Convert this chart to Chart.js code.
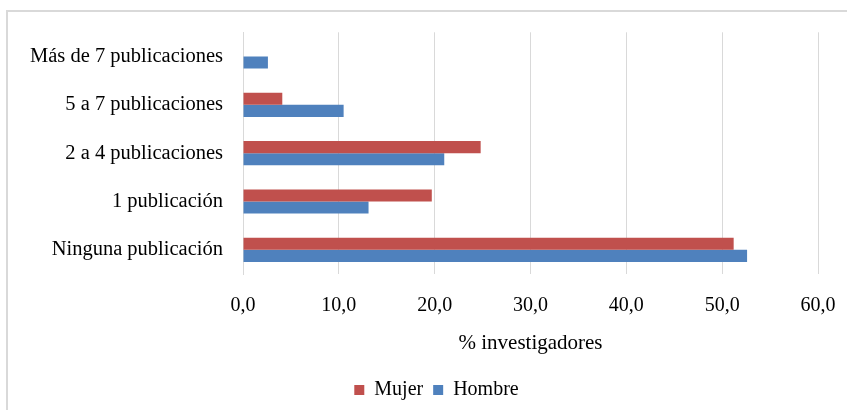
<!DOCTYPE html>
<html>
<head>
<meta charset="utf-8">
<script src="https://cdn.jsdelivr.net/npm/chart.js@4"></script>
<style>
    body { margin: 0; background: #fff; }
    #wrap { position: relative; width: 847px; height: 410px; }
    #frame {
        position: absolute; left: 6px; top: 10px; right: 0; bottom: 0;
        border-top: 2px solid #d9d9d9; border-left: 2px solid #d9d9d9;
        pointer-events: none;
    }
</style>
</head>
<body>
<div id="wrap">
    <canvas id="pub_chart" width="847" height="410"></canvas>
    <div id="frame"></div>
</div>
<script>
// categorias de arriba hacia abajo
let categorias = ["Más de 7 publicaciones", "5 a 7 publicaciones", "2 a 4 publicaciones", "1 publicación", "Ninguna publicación"]
let mujer = [0, 4.1, 24.8, 19.7, 51.2]
let hombre = [2.6, 10.5, 21.0, 13.1, 52.6]
let ejeX = { min: 0, max: 60, step: 10 }
let tituloX = "% investigadores"

let serif = "'Liberation Serif', 'Times New Roman', serif"
let fuenteTicks = { family: serif, size: 20 }
let fuenteCat = { family: serif, size: 20.5 }
let fuenteTitulo = { family: serif, size: 21 }
Chart.defaults.color = '#000'

// la leyenda del original esta corrida a la derecha
let moverLeyenda = {
    id: 'moverLeyenda',
    afterLayout: function (chart) {
        chart.legend.left = 55
    }
}

let ctx = document.getElementById("pub_chart")
let pubChart = new Chart(ctx, {
    type: 'bar',
    data: {
        labels: categorias,
        datasets: [{
            label: "Mujer",
            data: mujer,
            backgroundColor: '#C0504D'
        }, {
            label: "Hombre",
            data: hombre,
            backgroundColor: '#4F81BD'
        }]
    },
    options: {
        responsive: false,
        animation: false,
        indexAxis: 'y',
        categoryPercentage: 0.5,
        barPercentage: 1.0,
        layout: {
            padding: { top: 29, right: 29, bottom: 0, left: 0 }
        },
        scales: {
            x: {
                min: ejeX.min,
                max: ejeX.max,
                ticks: {
                    stepSize: ejeX.step,
                    padding: 20,
                    font: fuenteTicks,
                    callback: function (v) { return v.toFixed(1).replace('.', ',') }
                },
                grid: { color: '#d9d9d9', drawTicks: false },
                border: { display: false },
                title: {
                    display: true,
                    text: tituloX,
                    font: fuenteTitulo,
                    padding: { top: 0, bottom: 14 }
                },
                afterFit: function (s) {
                    s.height = 96
                    s.paddingRight = 0
                    s.paddingLeft = 0
                }
            },
            y: {
                ticks: { padding: 20, font: fuenteCat },
                grid: { display: false, drawTicks: false },
                border: { display: true, color: '#d9d9d9', width: 1 },
                afterFit: function (s) { s.width = 243 }
            }
        },
        plugins: {
            legend: {
                position: 'bottom',
                labels: {
                    boxWidth: 10,
                    boxHeight: 10,
                    padding: 10,
                    font: fuenteTicks
                }
            },
            tooltip: { enabled: false }
        }
    },
    plugins: [moverLeyenda]
})
</script>
</body>
</html>
